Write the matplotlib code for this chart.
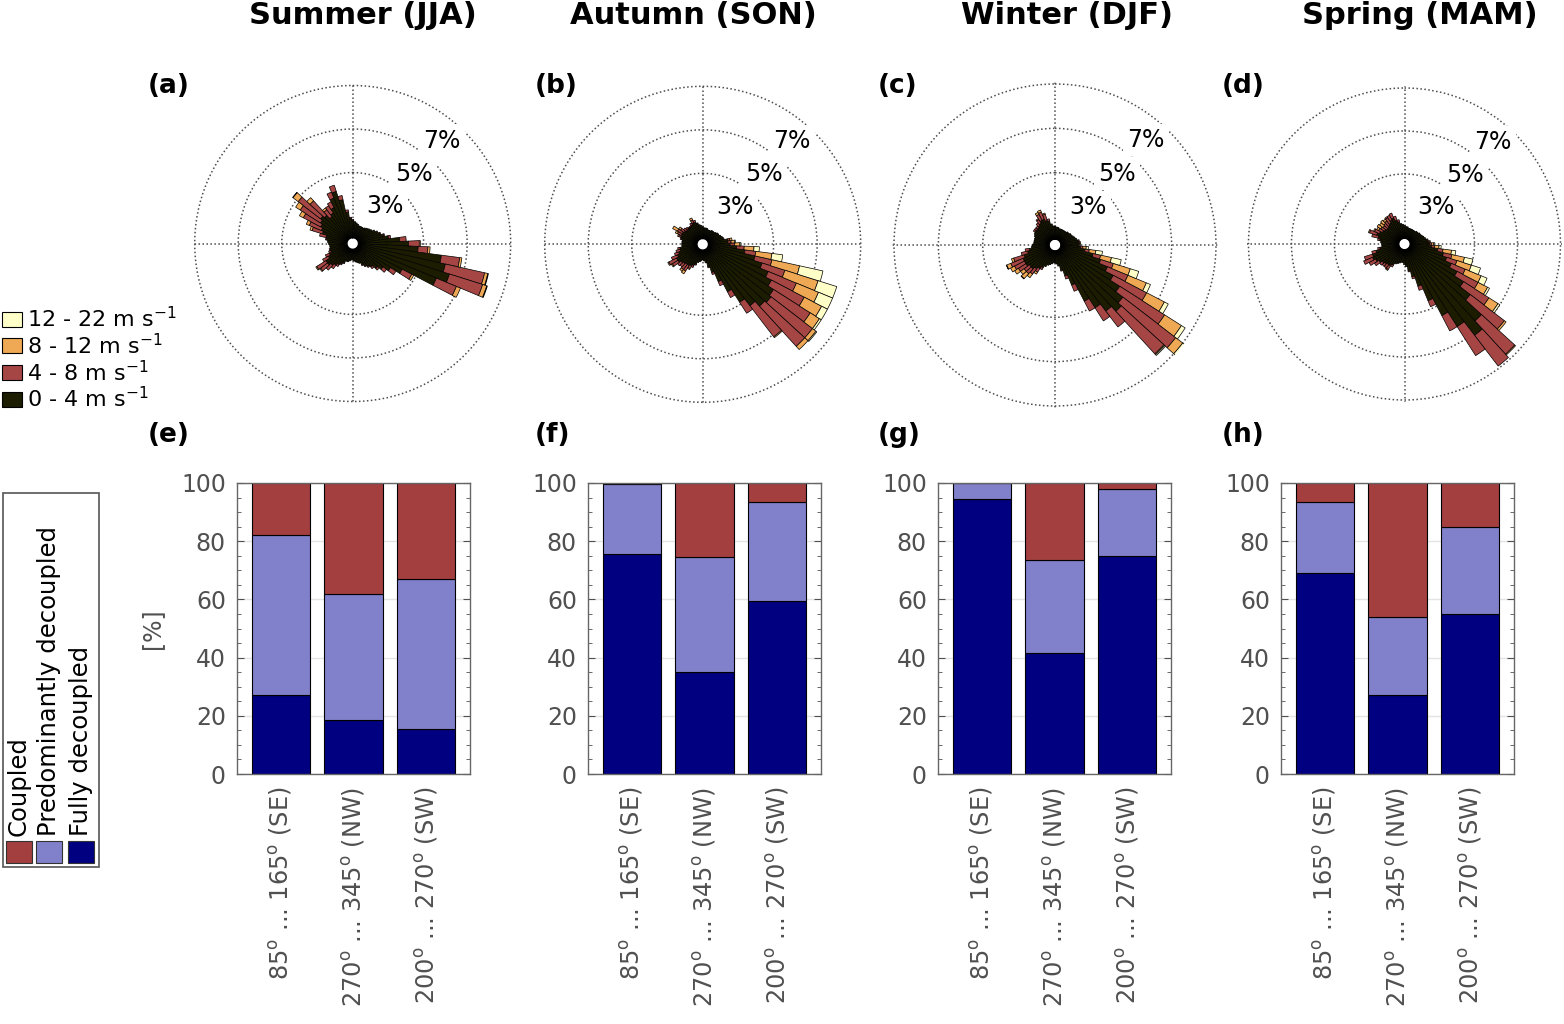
import numpy as np
import matplotlib
matplotlib.use('Agg')
import matplotlib.pyplot as plt
from matplotlib.patches import Rectangle

plt.rcParams['font.family'] = ['DejaVu Sans']
plt.rcParams['mathtext.default'] = 'regular'

W, H = 1564, 1024

seasons = ['Summer (JJA)', 'Autumn (SON)', 'Winter (DJF)', 'Spring (MAM)']
rose_tags = ['(a)', '(b)', '(c)', '(d)']
bar_tags = ['(e)', '(f)', '(g)', '(h)']

# wind direction bins (deg, 5 deg wide)
directions = np.arange(0, 360, 5)
speed_classes = ['0 - 4 m s$^{-1}$', '4 - 8 m s$^{-1}$', '8 - 12 m s$^{-1}$', '12 - 22 m s$^{-1}$']

# frequency [%] per direction bin and speed class
summer_0_4 = [0.8, 0.75, 0.7, 0.65, 0.6, 0.6, 0.6, 0.6, 0.65, 0.7, 0.75, 0.8,
              0.9, 1.0, 1.05, 1.2, 1.4, 1.9, 2.3, 2.75, 3.85, 4.1, 4.4, 3.9,
              2.3, 1.8, 1.5, 1.3, 1.1, 1.0, 0.9, 0.8, 0.7, 0.65, 0.6, 0.55,
              0.5, 0.5, 0.55, 0.6, 0.6, 0.7, 0.8, 0.9, 1.0, 1.1, 1.2, 1.2,
              1.0, 0.9, 0.8, 0.8, 0.8, 0.8, 0.85, 0.9, 0.95, 1.0, 1.2, 1.3,
              1.4, 1.5, 1.6, 1.5, 1.3, 1.4, 1.6, 2.0, 2.25, 1.8, 1.2, 0.9]
summer_4_8 = [0.05, 0, 0, 0, 0, 0, 0, 0, 0, 0, 0, 0,
              0, 0, 0.05, 0.05, 0.1, 0.3, 0.5, 0.45, 0.85, 1.85, 1.6, 1.0,
              0.5, 0.3, 0.2, 0.1, 0.1, 0.05, 0.05, 0.05, 0, 0, 0, 0,
              0, 0, 0, 0, 0, 0.05, 0.05, 0.1, 0.2, 0.3, 0.4, 0.5,
              0.3, 0.2, 0.1, 0.05, 0, 0, 0, 0, 0.05, 0.3, 0.5, 0.6,
              0.9, 1.1, 1.3, 0.9, 0.4, 0.4, 0.3, 0.3, 0.3, 0.2, 0.1, 0.05]
summer_8_12 = [0, 0, 0, 0, 0, 0, 0, 0, 0, 0, 0, 0,
               0, 0, 0, 0, 0, 0, 0.05, 0.1, 0.1, 0.15, 0.2, 0.2,
               0.1, 0, 0, 0, 0, 0, 0, 0, 0, 0, 0, 0,
               0, 0, 0, 0, 0, 0, 0, 0, 0, 0, 0.05, 0.05,
               0, 0, 0, 0, 0, 0, 0, 0, 0, 0, 0.1, 0.15,
               0.2, 0.25, 0.3, 0.2, 0.1, 0, 0, 0, 0, 0, 0, 0]
summer_12_22 = [0, 0, 0, 0, 0, 0, 0, 0, 0, 0, 0, 0,
                0, 0, 0, 0, 0, 0, 0, 0, 0, 0.03, 0.03, 0,
                0, 0, 0, 0, 0, 0, 0, 0, 0, 0, 0, 0,
                0, 0, 0, 0, 0, 0, 0, 0, 0, 0, 0, 0,
                0, 0, 0, 0, 0, 0, 0, 0, 0, 0, 0, 0,
                0, 0, 0.02, 0, 0, 0, 0, 0, 0, 0, 0, 0]

autumn_0_4 = [0.55, 0.5, 0.5, 0.5, 0.45, 0.45, 0.45, 0.5, 0.5, 0.5, 0.55, 0.6,
              0.6, 0.65, 0.7, 0.75, 0.9, 0.9, 1.0, 1.3, 1.7, 2.2, 2.6, 3.0,
              3.3, 3.6, 3.7, 3.6, 3.3, 2.9, 2.2, 1.6, 1.1, 0.8, 0.6, 0.5,
              0.45, 0.5, 0.55, 0.6, 0.7, 0.8, 0.85, 0.9, 0.9, 0.95, 1.0, 1.1,
              1.1, 1.0, 0.9, 0.8, 0.8, 0.7, 0.7, 0.7, 0.7, 0.75, 0.8, 0.8,
              0.8, 0.75, 0.7, 0.7, 0.7, 0.7, 0.75, 0.8, 0.8, 0.7, 0.65, 0.6]
autumn_4_8 = [0, 0, 0, 0, 0, 0, 0, 0, 0, 0, 0, 0,
              0, 0, 0, 0, 0.1, 0.15, 0.2, 0.35, 0.5, 0.8, 1.1, 1.4,
              1.7, 2.0, 2.4, 2.5, 1.8, 0.6, 0.3, 0.2, 0.1, 0.05, 0, 0,
              0, 0, 0, 0, 0.05, 0.1, 0.15, 0.3, 0.3, 0.2, 0.2, 0.3,
              0.4, 0.3, 0.2, 0.2, 0.1, 0, 0, 0, 0, 0.05, 0.1, 0.2,
              0.25, 0.2, 0.15, 0.1, 0.05, 0.05, 0.1, 0.15, 0.1, 0.05, 0, 0]
autumn_8_12 = [0, 0, 0, 0, 0, 0, 0, 0, 0, 0, 0, 0,
               0, 0, 0, 0, 0.1, 0.15, 0.25, 0.45, 0.75, 1.3, 1.6, 1.1,
               0.9, 0.5, 0.2, 0.2, 0.05, 0, 0, 0, 0, 0, 0, 0,
               0, 0, 0, 0, 0, 0, 0.05, 0.15, 0.1, 0, 0, 0.05,
               0.05, 0, 0, 0, 0, 0, 0, 0, 0, 0, 0.05, 0.1,
               0.25, 0.1, 0, 0, 0, 0, 0, 0.1, 0, 0, 0, 0]
autumn_12_22 = [0, 0, 0, 0, 0, 0, 0, 0, 0, 0, 0, 0,
                0, 0, 0, 0, 0, 0.05, 0.05, 0.25, 0.5, 1.1, 0.9, 0.7,
                0.3, 0.1, 0.05, 0, 0, 0, 0, 0, 0, 0, 0, 0,
                0, 0, 0, 0, 0, 0, 0, 0, 0, 0, 0, 0,
                0, 0, 0, 0, 0, 0, 0, 0, 0, 0, 0, 0,
                0, 0, 0, 0, 0, 0, 0, 0, 0, 0, 0, 0]

winter_0_4 = [0.6, 0.55, 0.55, 0.5, 0.5, 0.5, 0.5, 0.5, 0.5, 0.55, 0.55, 0.6,
              0.6, 0.65, 0.7, 0.75, 0.8, 0.8, 0.75, 0.9, 1.1, 1.5, 1.9, 2.3,
              2.7, 3.2, 3.6, 3.8, 3.5, 3.1, 2.6, 1.7, 1.2, 0.9, 0.7, 0.6,
              0.55, 0.55, 0.6, 0.65, 0.7, 0.8, 0.9, 1.0, 1.1, 1.2, 1.2, 1.3,
              1.3, 1.3, 1.2, 1.0, 0.9, 0.8, 0.75, 0.7, 0.7, 0.7, 0.7, 0.75,
              0.8, 0.8, 0.8, 0.8, 0.85, 0.9, 1.0, 1.0, 0.9, 0.85, 0.7, 0.6]
winter_4_8 = [0, 0, 0, 0, 0, 0, 0, 0, 0, 0, 0, 0,
              0, 0, 0, 0, 0.05, 0.05, 0.05, 0.1, 0.2, 0.35, 0.6, 1.0,
              1.7, 2.4, 3.0, 2.6, 0.9, 0.7, 0.5, 0.3, 0.15, 0.05, 0, 0,
              0, 0, 0, 0, 0, 0, 0.1, 0.2, 0.3, 0.3, 0.3, 0.4,
              0.5, 0.6, 0.5, 0.3, 0.2, 0, 0, 0, 0, 0, 0, 0,
              0, 0.1, 0.1, 0.1, 0.15, 0.2, 0.3, 0.35, 0.3, 0.1, 0, 0]
winter_8_12 = [0, 0, 0, 0, 0, 0, 0, 0, 0, 0, 0, 0,
               0, 0, 0, 0, 0, 0.05, 0.05, 0.15, 0.3, 0.5, 0.8, 0.9,
               0.9, 0.9, 0.4, 0.05, 0, 0, 0, 0, 0, 0, 0, 0,
               0, 0, 0, 0, 0, 0, 0, 0.1, 0.2, 0.3, 0.2, 0.2,
               0.2, 0.2, 0.1, 0, 0, 0, 0, 0, 0, 0, 0, 0,
               0, 0, 0, 0, 0, 0.05, 0.1, 0.1, 0.05, 0, 0, 0]
winter_12_22 = [0, 0, 0, 0, 0, 0, 0, 0, 0, 0, 0, 0,
                0, 0, 0, 0, 0, 0, 0.05, 0.1, 0.3, 0.45, 0.4, 0.2,
                0.2, 0.2, 0.15, 0.05, 0, 0, 0, 0, 0, 0, 0, 0,
                0, 0, 0, 0, 0, 0, 0, 0, 0, 0.02, 0, 0,
                0, 0.02, 0, 0, 0, 0, 0, 0, 0, 0, 0, 0,
                0, 0, 0, 0, 0, 0, 0, 0, 0, 0, 0, 0]

spring_0_4 = [0.6, 0.55, 0.55, 0.5, 0.5, 0.5, 0.5, 0.5, 0.5, 0.55, 0.55, 0.6,
              0.6, 0.65, 0.7, 0.75, 0.8, 0.85, 0.9, 1.0, 1.3, 1.6, 1.8, 2.1,
              2.5, 3.0, 3.6, 4.6, 5.1, 4.3, 3.5, 2.6, 1.8, 1.3, 1.0, 0.8,
              0.7, 0.6, 0.6, 0.65, 0.7, 0.75, 0.85, 0.95, 0.95, 1.0, 1.05, 1.15,
              1.25, 1.35, 1.3, 1.1, 0.9, 0.8, 0.8, 0.85, 0.9, 1.0, 1.1, 1.0,
              0.9, 0.85, 0.8, 0.8, 0.85, 0.9, 1.0, 1.05, 0.9, 0.8, 0.7, 0.65]
spring_4_8 = [0, 0, 0, 0, 0, 0, 0, 0, 0, 0, 0, 0,
              0, 0, 0, 0, 0.05, 0.05, 0.1, 0.15, 0.25, 0.4, 0.5, 0.7,
              1.1, 1.4, 2.0, 2.1, 1.8, 1.6, 0.8, 0.3, 0.2, 0.1, 0.05, 0,
              0, 0, 0, 0, 0, 0, 0.1, 0.2, 0.2, 0.15, 0.15, 0.25,
              0.35, 0.45, 0.4, 0.2, 0.1, 0, 0, 0, 0.1, 0.3, 0.35, 0.25,
              0.2, 0.2, 0.2, 0.25, 0.25, 0.3, 0.25, 0.25, 0.2, 0.1, 0, 0]
spring_8_12 = [0, 0, 0, 0, 0, 0, 0, 0, 0, 0, 0, 0,
               0, 0, 0, 0, 0, 0.05, 0.1, 0.2, 0.4, 0.6, 0.7, 0.8,
               0.5, 0.5, 0.1, 0.05, 0, 0, 0, 0, 0, 0, 0, 0,
               0, 0, 0, 0, 0, 0, 0, 0.05, 0, 0, 0, 0,
               0, 0, 0, 0, 0, 0, 0, 0, 0, 0, 0.05, 0.05,
               0.1, 0.2, 0.2, 0.2, 0.1, 0.05, 0, 0, 0, 0, 0, 0]
spring_12_22 = [0, 0, 0, 0, 0, 0, 0, 0, 0, 0, 0, 0,
                0, 0, 0, 0, 0, 0, 0.05, 0.1, 0.2, 0.4, 0.45, 0.3,
                0.1, 0.1, 0, 0, 0, 0, 0, 0, 0, 0, 0, 0,
                0, 0, 0, 0, 0, 0, 0, 0, 0, 0, 0, 0,
                0, 0, 0, 0, 0, 0, 0, 0, 0, 0, 0, 0,
                0, 0, 0, 0, 0, 0, 0, 0, 0, 0, 0, 0]

rose_data = [
    [summer_0_4, summer_4_8, summer_8_12, summer_12_22],
    [autumn_0_4, autumn_4_8, autumn_8_12, autumn_12_22],
    [winter_0_4, winter_4_8, winter_8_12, winter_12_22],
    [spring_0_4, spring_4_8, spring_8_12, spring_12_22],
]
rose_rings = [3, 5, 7]

# coupling regime [%] for the three sectors
sectors = ['85$^o$ ... 165$^o$ (SE)', '270$^o$ ... 345$^o$ (NW)', '200$^o$ ... 270$^o$ (SW)']
regimes = ['Coupled', 'Predominantly decoupled', 'Fully decoupled']
fully_decoupled = [[27, 18.5, 15.5], [75.5, 35, 59.5], [94.5, 41.5, 75], [69, 27, 55]]
predominantly_decoupled = [[55, 43.5, 51.5], [24, 39.5, 34], [5.5, 32, 23], [24.5, 27, 30]]
coupled = [[18, 38, 33], [0.5, 25.5, 6.5], [0, 26.5, 2], [6.5, 46, 15]]

speed_colors = ['#1c1c00', '#a64644', '#efa955', '#ffffc8']
regime_colors = {'Coupled': '#a33f3f', 'Predominantly decoupled': '#8181cb', 'Fully decoupled': '#000080'}
gray = '#505050'


def px_box(x0, y0, x1, y1):
    return [x0 / W, 1 - y1 / H, (x1 - x0) / W, (y1 - y0) / H]


fig = plt.figure(figsize=(W / 100, H / 100), dpi=100)

# wind roses
rose_centers = [(352.7, 243.5), (702.7, 244.3), (1055, 245), (1404.5, 244)]
rose_radius = [158, 158, 161, 156]
r0 = 0.26
rmax = 7.08
width = np.deg2rad(5)
theta = np.deg2rad(directions)
for i in range(4):
    cx, cy = rose_centers[i]
    R = rose_radius[i] * (rmax + r0) / (7 + r0)
    ax = fig.add_axes(px_box(cx - R, cy - R, cx + R, cy + R), projection='polar')
    ax.set_theta_zero_location('N')
    ax.set_theta_direction(-1)
    ax.set_rorigin(-r0)
    ax.set_ylim(0, rmax)
    ax.set_axisbelow(True)
    bottom = np.zeros(len(directions))
    for k in range(4):
        h = np.array(rose_data[i][k], dtype=float)
        m = h > 0
        ax.bar(theta[m], h[m], width=width, bottom=bottom[m], color=speed_colors[k],
               edgecolor='k', linewidth=0.5)
        bottom += h
    ax.set_rticks(rose_rings)
    ax.set_yticklabels([])
    ax.set_xticks(np.deg2rad([0, 90, 180, 270]))
    ax.set_xticklabels([])
    ax.grid(True, color='0.3', linestyle=(0, (1, 1.6)), linewidth=1.1)
    ax.spines['polar'].set_visible(False)
    ax.patch.set_alpha(0)
    for p in rose_rings:
        ax.text(np.deg2rad(41), p - 1, f'{p}%', ha='center', va='center', fontsize=17,
                bbox=dict(facecolor='white', edgecolor='none', pad=3), zorder=5)

# coupling bars
bar_left = [237, 588, 938, 1281]
for i in range(4):
    ax = fig.add_axes(px_box(bar_left[i], 483, bar_left[i] + 233, 774))
    x = np.arange(1, 4)
    f = np.array(fully_decoupled[i])
    p = np.array(predominantly_decoupled[i])
    c = np.array(coupled[i])
    ax.bar(x, f, 0.8, color=regime_colors['Fully decoupled'], edgecolor='k', linewidth=0.8, zorder=2)
    ax.bar(x, p, 0.8, bottom=f, color=regime_colors['Predominantly decoupled'], edgecolor='k', linewidth=0.8, zorder=2)
    ax.bar(x, c, 0.8, bottom=f + p, color=regime_colors['Coupled'], edgecolor='k', linewidth=0.8, zorder=2)
    ax.set_xlim(0.4, 3.6)
    ax.set_ylim(0, 100)
    ax.set_yticks(range(0, 101, 20))
    ax.set_yticks(range(0, 101, 5), minor=True)
    ax.set_xticks(x)
    ax.set_xticklabels(sectors, rotation=90)
    ax.tick_params(axis='y', which='both', direction='in', left=True, right=True, colors=gray,
                   labelsize=17, pad=8)
    ax.tick_params(axis='y', which='major', length=5)
    ax.tick_params(axis='y', which='minor', length=3)
    ax.tick_params(axis='x', length=0, colors=gray, labelsize=17.3, pad=9)
    ax.yaxis.grid(True, color='#e4e4e4', linewidth=1.0, zorder=0)
    ax.set_axisbelow(True)
    for s in ax.spines.values():
        s.set_color('#666666')
        s.set_linewidth(1.0)
    if i == 0:
        ax.set_ylabel('[%]', color=gray, fontsize=17, labelpad=12)

# texts and legends drawn in pixel space
ov = fig.add_axes([0, 0, 1, 1])
ov.set_xlim(0, W)
ov.set_ylim(H, 0)
ov.axis('off')

title_x = [363, 693, 1067, 1420]
for i in range(4):
    ov.text(title_x[i], 15, seasons[i], ha='center', va='center', fontsize=22, fontweight='bold')
tag_x = [148, 535, 878, 1222]
for i in range(4):
    ov.text(tag_x[i], 86, rose_tags[i], ha='left', va='center', fontsize=19, fontweight='bold')
    ov.text(tag_x[i], 435, bar_tags[i], ha='left', va='center', fontsize=19, fontweight='bold')

# wind speed legend
leg_rows = [319, 345.5, 372.5, 399]
for j, k in enumerate([3, 2, 1, 0]):
    y = leg_rows[j]
    ov.add_patch(Rectangle((2, y - 7.5), 20, 15, facecolor=speed_colors[k], edgecolor='k', linewidth=0.8))
    ov.text(27, y, speed_classes[k], ha='left', va='center', fontsize=16)

# coupling regime legend (rotated)
ov.add_patch(Rectangle((2.5, 493), 96.5, 374, facecolor='white', edgecolor='#555555', linewidth=1.2))
leg_x = [18.5, 49, 81]
for j, name in enumerate(regimes):
    ov.add_patch(Rectangle((leg_x[j] - 13, 841), 26, 22, facecolor=regime_colors[name],
                           edgecolor='#333333', linewidth=0.8))
    ov.text(leg_x[j], 836, name, rotation=90, ha='center', va='bottom', fontsize=17.5)

fig.savefig('out.png', dpi=100)
